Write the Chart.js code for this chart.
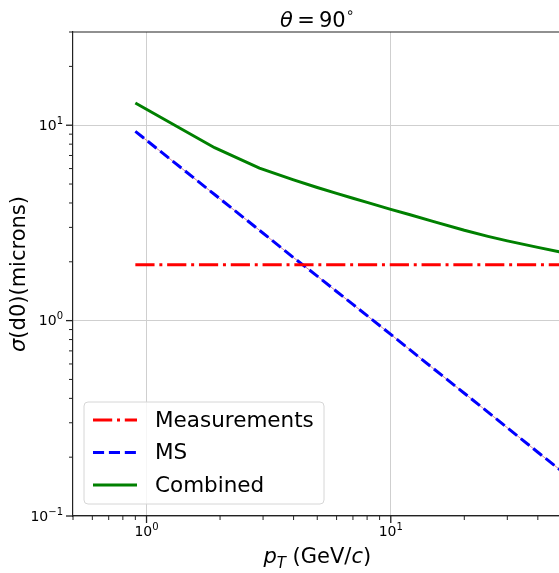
<!DOCTYPE html>
<html>
<head>
<meta charset="utf-8">
<script src="https://cdn.jsdelivr.net/npm/chart.js@4"></script>
<style>
  body { margin: 0; background: #fff; }
  #wrap { width: 559px; height: 573px; overflow: hidden; }
</style>
</head>
<body>
<div id="wrap"><canvas id="myChart" width="600" height="573"></canvas></div>
<script>
// pT points (GeV/c)
var pt = [0.9, 1.9, 2.9, 4, 5, 6, 7, 8, 10, 12, 15, 20, 25, 30, 40, 50];
// sigma(d0) in microns
var measurements = [1.93, 1.93, 1.93, 1.93, 1.93, 1.93, 1.93, 1.93, 1.93, 1.93, 1.93, 1.93, 1.93, 1.93, 1.93, 1.93];
var ms = [9.3, 4.42, 2.9, 2.1, 1.69, 1.41, 1.21, 1.06, 0.85, 0.708, 0.566, 0.425, 0.34, 0.283, 0.212, 0.17];
var combined = [13.0, 7.67, 6.03, 5.25, 4.80, 4.48, 4.23, 4.03, 3.71, 3.48, 3.21, 2.90, 2.70, 2.56, 2.37, 2.24];

// ticks
var xMajor = [1, 10];
var xMajorExp = ['0', '1'];
var xMinor = [0.5, 0.6, 0.7, 0.8, 0.9, 2, 3, 4, 5, 6, 7, 8, 9, 20, 30, 40, 50];
var yMajor = [0.1, 1, 10];
var yMajorExp = ['\u22121', '0', '1'];
var yMinor = [0.2, 0.3, 0.4, 0.5, 0.6, 0.7, 0.8, 0.9, 2, 3, 4, 5, 6, 7, 8, 9, 20, 30];

var FONT = '"DejaVu Sans", sans-serif';

function pts(ys){
    var out = [];
    for (var i = 0; i < pt.length; i++) out.push({x: pt[i], y: ys[i]});
    return out;
}

function setTicks(major, minor){
    return function(scale){
        scale.ticks = major.concat(minor).map(function(v){ return {value: v}; });
    };
}

function gridColor(major){
    return function(c){
        return (c.tick && major.indexOf(c.tick.value) >= 0) ? '#cfcfcf' : 'rgba(0,0,0,0)';
    };
}

// 10^n label
function powLabel(ctx, exp, x, y, align){
    ctx.font = '14px ' + FONT;
    var wb = ctx.measureText('10').width;
    ctx.font = '10px ' + FONT;
    var we = ctx.measureText(exp).width;
    var x0 = align === 'right' ? x - wb - we : x - (wb + we) / 2;
    ctx.textAlign = 'left';
    ctx.textBaseline = 'middle';
    ctx.font = '14px ' + FONT;
    ctx.fillText('10', x0, y);
    ctx.font = '10px ' + FONT;
    ctx.fillText(exp, x0 + wb, y - 5);
}

// draws a row of [font, text, dy] pieces centred on x
function richText(ctx, parts, x, y){
    var tw = 0;
    parts.forEach(function(p){ ctx.font = p[0]; tw += ctx.measureText(p[1]).width; });
    var x0 = x - tw / 2;
    parts.forEach(function(p){
        ctx.font = p[0];
        ctx.fillText(p[1], x0, y + p[2]);
        x0 += ctx.measureText(p[1]).width;
    });
}

var decor = {
    id: 'decor',
    afterDraw: function(chart){
        var ctx = chart.ctx;
        var a = chart.chartArea;
        var xs = chart.scales.x, ys = chart.scales.y;
        ctx.save();
        ctx.fillStyle = '#000';
        ctx.strokeStyle = '#222';

        // top spine
        ctx.lineWidth = 1.2;
        ctx.beginPath();
        ctx.moveTo(a.left, a.top);
        ctx.lineTo(a.right, a.top);
        ctx.stroke();

        // tick marks
        function tick(x1, y1, x2, y2, w){
            ctx.lineWidth = w;
            ctx.beginPath();
            ctx.moveTo(x1, y1);
            ctx.lineTo(x2, y2);
            ctx.stroke();
        }
        xMajor.forEach(function(v, i){
            var px = xs.getPixelForValue(v);
            tick(px, a.bottom, px, a.bottom + 7, 1.3);
            powLabel(ctx, xMajorExp[i], px, a.bottom + 16, 'center');
        });
        xMinor.forEach(function(v){
            var px = xs.getPixelForValue(v);
            tick(px, a.bottom, px, a.bottom + 4, 1);
        });
        yMajor.forEach(function(v, i){
            var py = ys.getPixelForValue(v);
            tick(a.left - 7, py, a.left, py, 1.3);
            powLabel(ctx, yMajorExp[i], a.left - 10, py + 1, 'right');
        });
        yMinor.forEach(function(v){
            var py = ys.getPixelForValue(v);
            tick(a.left - 4, py, a.left, py, 1);
        });

        var cx = (a.left + a.right) / 2;
        ctx.textBaseline = 'alphabetic';
        ctx.textAlign = 'left';

        // title
        richText(ctx, [
            ['italic 21px ' + FONT, '\u03b8', 0],
            ['21px ' + FONT, '\u2009=\u200990', 0],
            ['14px ' + FONT, '\u2218', -10]
        ], cx, 27);

        // x axis title
        richText(ctx, [
            ['italic 21px ' + FONT, 'p', 0],
            ['italic 15px ' + FONT, 'T', 5],
            ['21px ' + FONT, ' (GeV/', 0],
            ['italic 21px ' + FONT, 'c', 0],
            ['21px ' + FONT, ')', 0]
        ], cx, 563);

        // y axis title
        ctx.save();
        ctx.translate(25, (a.top + a.bottom) / 2);
        ctx.rotate(-Math.PI / 2);
        richText(ctx, [
            ['italic 21px ' + FONT, '\u03c3', 0],
            ['21px ' + FONT, '(d0)(microns)', 0]
        ], 0, 0);
        ctx.restore();

        // legend box
        var lx = 84, ly = 402, lw = 240, lh = 102, r = 4;
        ctx.beginPath();
        ctx.moveTo(lx + r, ly);
        ctx.arcTo(lx + lw, ly, lx + lw, ly + lh, r);
        ctx.arcTo(lx + lw, ly + lh, lx, ly + lh, r);
        ctx.arcTo(lx, ly + lh, lx, ly, r);
        ctx.arcTo(lx, ly, lx + lw, ly, r);
        ctx.closePath();
        ctx.fillStyle = 'rgba(255,255,255,0.8)';
        ctx.fill();
        ctx.strokeStyle = '#d6d6d6';
        ctx.lineWidth = 1;
        ctx.stroke();

        var rows = [420, 452.5, 485];
        var shown = chart.data.datasets.filter(function(d){ return d.label; });
        shown.forEach(function(d, i){
            ctx.strokeStyle = d.borderColor;
            ctx.lineWidth = d.borderWidth;
            ctx.setLineDash(d.borderDash || []);
            ctx.beginPath();
            ctx.moveTo(93, rows[i]);
            ctx.lineTo(137, rows[i]);
            ctx.stroke();
            ctx.setLineDash([]);
            ctx.fillStyle = '#000';
            ctx.font = '21.5px ' + FONT;
            ctx.textBaseline = 'middle';
            ctx.fillText(d.label, 155, rows[i] + 1);
        });
        ctx.restore();
    }
};

const ctx = document.getElementById('myChart');

new Chart(ctx, {
    type: 'line',
    data: {
        datasets: [{
            label: 'Measurements',
            data: pts(measurements),
            borderColor: '#ff0000',
            borderWidth: 3,
            borderDash: [19.2, 4.8, 3, 4.8],
            pointRadius: 0,
            order: 1
        }, {
            label: 'MS',
            data: pts(ms),
            borderColor: '#0000ff',
            borderWidth: 3,
            borderDash: [11.1, 4.8],
            pointRadius: 0,
            order: 2
        }, {
            label: 'Combined',
            data: pts(combined),
            borderColor: '#008000',
            borderWidth: 3,
            pointRadius: 0,
            order: 0
        }, {
            label: '',
            data: pts(ms),
            borderColor: 'rgba(200,120,150,0.9)',
            borderWidth: 1,
            pointRadius: 0,
            order: 3
        }]
    },
    options: {
        responsive: false,
        animation: false,
        layout: { padding: { left: 73, top: 32, right: 38.5, bottom: 57 } },
        plugins: { legend: { display: false }, tooltip: { enabled: false } },
        scales: {
            x: {
                type: 'logarithmic',
                min: 0.5,
                max: 50,
                afterBuildTicks: setTicks(xMajor, xMinor),
                ticks: { display: false },
                grid: { color: gridColor(xMajor), lineWidth: 1, drawTicks: false },
                border: { color: '#222', width: 1.2 }
            },
            y: {
                type: 'logarithmic',
                min: 0.1,
                max: 30,
                afterBuildTicks: setTicks(yMajor, yMinor),
                ticks: { display: false },
                grid: { color: gridColor(yMajor), lineWidth: 1, drawTicks: false },
                border: { color: '#222', width: 1.2 }
            }
        }
    },
    plugins: [decor]
});
</script>
</body>
</html>
